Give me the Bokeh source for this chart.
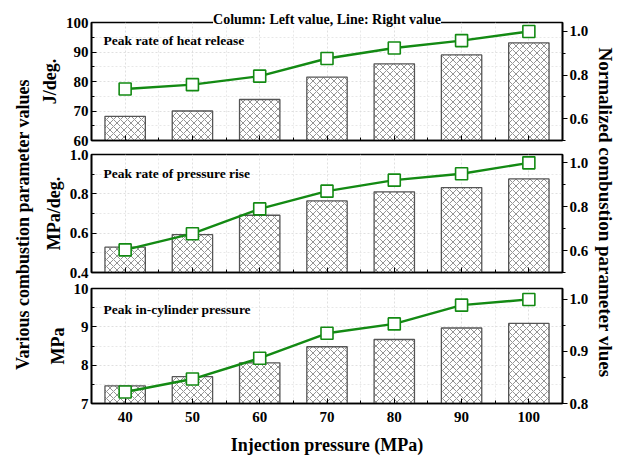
import math
from bokeh.plotting import figure
from bokeh.layouts import row, column
from bokeh.models import (Range1d, LinearAxis, FixedTicker, Label, ColumnDataSource,
                          PrintfTickFormatter, CustomJSTickFormatter)
from bokeh.embed import file_html
from bokeh.resources import INLINE

# ---------------- data ----------------
injection = [40, 50, 60, 70, 80, 90, 100]
x_major = [40, 50, 60, 70, 80, 90, 100]
x_minor = [35, 45, 55, 65, 75, 85, 95, 105]

hrr_peak = [68.2, 70.0, 73.9, 81.5, 86.0, 89.0, 93.1]
hrr_norm = [0.736, 0.756, 0.795, 0.876, 0.924, 0.958, 1.0]

prr_peak = [0.529, 0.593, 0.691, 0.764, 0.810, 0.832, 0.876]
prr_norm = [0.603, 0.677, 0.790, 0.871, 0.921, 0.950, 1.0]

pmax_peak = [7.46, 7.70, 8.06, 8.48, 8.67, 8.97, 9.09]
pmax_norm = [0.822, 0.847, 0.887, 0.935, 0.953, 0.989, 1.0]

panel_names = ["Peak rate of heat release", "Peak rate of pressure rise", "Peak in-cylinder pressure"]
unit_labels = ["J/deg.", "MPa/deg.", "MPa"]
x_title = "Injection pressure (MPa)"
left_title = "Various combustion parameter values"
right_title = "Normalized combustion parameter vlues"
legend_note = "Column: Left value, Line: Right value"

FONT = "Liberation Serif"
GREEN = "#138a13"


def make_panel(vals, norms, name, unit, ylim, yt, ym, yfmt, nlim, nt, nm,
               height, btop, bbot, name_y, show_x):
    p = figure(width=556, height=height, x_range=Range1d(35, 105),
               y_range=Range1d(*ylim), output_backend="svg",
               toolbar_location=None, min_border_left=54, min_border_right=30,
               min_border_top=btop, min_border_bottom=bbot)
    p.extra_y_ranges = {"norm": Range1d(*nlim)}
    p.outline_line_color = "black"
    p.outline_line_width = 1.6
    p.background_fill_color = "white"

    xt = FixedTicker(ticks=x_major, minor_ticks=x_minor)
    ytk = FixedTicker(ticks=yt, minor_ticks=ym)
    ntk = FixedTicker(ticks=nt, minor_ticks=nm)

    # grids
    p.xgrid.ticker = xt
    p.ygrid.ticker = ytk
    for g in (p.xgrid, p.ygrid):
        g.grid_line_color = "#d8d8d8"
        g.grid_line_dash = "2 2"
        g.grid_line_width = 0.8
        g.minor_grid_line_color = "#e2e2e2"
        g.minor_grid_line_dash = "2 2"
        g.minor_grid_line_width = 0.8

    # left axis
    ya = p.yaxis[0]
    ya.ticker = ytk
    ya.formatter = PrintfTickFormatter(format=yfmt)
    ya.major_tick_in = 5
    ya.major_tick_out = 0
    ya.minor_tick_in = 3
    ya.minor_tick_out = 0
    ya.major_label_standoff = 3
    ya.axis_line_width = 1.6
    ya.major_label_text_font = FONT
    ya.major_label_text_font_style = "bold"
    ya.major_label_text_font_size = "15px"
    ya.major_label_text_color = "black"
    ya.axis_label = unit
    ya.axis_label_text_font = FONT
    ya.axis_label_text_font_style = "bold"
    ya.axis_label_text_font_size = "18px"
    ya.axis_label_text_color = "black"
    ya.axis_label_standoff = 3

    # right axis
    ra = LinearAxis(y_range_name="norm", ticker=ntk,
                    formatter=PrintfTickFormatter(format="%.1f"))
    ra.major_tick_in = 0
    ra.major_tick_out = 5
    ra.minor_tick_in = 0
    ra.minor_tick_out = 3
    ra.major_label_standoff = 2
    ra.axis_line_width = 1.6
    ra.major_label_text_font = FONT
    ra.major_label_text_font_style = "bold"
    ra.major_label_text_font_size = "15px"
    ra.major_label_text_color = "black"
    p.add_layout(ra, "right")

    # bottom axis
    xa = p.xaxis[0]
    xa.ticker = xt
    xa.major_tick_in = 5
    xa.major_tick_out = 0
    xa.minor_tick_in = 3
    xa.minor_tick_out = 0
    xa.axis_line_width = 1.6
    xa.major_label_text_font = FONT
    xa.major_label_text_font_style = "bold"
    xa.major_label_text_color = "black"
    if show_x:
        xa.major_label_text_font_size = "15px"
        xa.major_label_standoff = 8
        xa.axis_label = x_title
        xa.axis_label_text_font = FONT
        xa.axis_label_text_font_style = "bold"
        xa.axis_label_text_font_size = "18px"
        xa.axis_label_text_color = "black"
        xa.axis_label_standoff = 10
    else:
        xa.formatter = CustomJSTickFormatter(code="return '';")
        xa.major_label_text_font_size = "1px"
        xa.major_label_standoff = 0

    src = ColumnDataSource(dict(x=injection, top=vals, norm=norms))
    p.vbar(x="x", top="top", bottom=ylim[0], width=6, source=src,
           fill_color="white", line_color="#555555", line_width=1.3,
           hatch_pattern="diagonal_cross", hatch_color="#666666",
           hatch_scale=7, hatch_weight=0.7)
    p.line(x="x", y="norm", source=src, y_range_name="norm",
           line_color=GREEN, line_width=2.4)
    p.scatter(x="x", y="norm", source=src, y_range_name="norm",
              marker="square", size=12, fill_color="white",
              line_color=GREEN, line_width=1.6)

    p.add_layout(Label(x=36.8, y=name_y, text=name, text_font=FONT,
                       text_font_style="bold", text_font_size="13.5px",
                       text_color="black",
                       text_align="left", text_baseline="middle"))
    return p


p1 = make_panel(hrr_peak, hrr_norm, panel_names[0], unit_labels[0],
                (60, 100), [60, 70, 80, 90, 100], [65, 75, 85, 95], "%d",
                (0.5, 1.041), [0.6, 0.8, 1.0], [0.5, 0.7, 0.9],
                147, 22, 7, 93.9, False)
p1.title.text = legend_note
p1.title.align = "center"
p1.title.text_font = FONT
p1.title.text_font_style = "bold"
p1.title.text_font_size = "14px"
p1.title.text_color = "black"
p1.title.background_fill_color = "white"
try:
    p1.title.standoff = -8
except Exception:
    p1.title.standoff = 0

p2 = make_panel(prr_peak, prr_norm, panel_names[1], unit_labels[1],
                (0.4, 1.0), [0.4, 0.6, 0.8, 1.0], [0.5, 0.7, 0.9], "%.1f",
                (0.5, 1.038), [0.6, 0.8, 1.0], [0.5, 0.7, 0.9],
                132, 7, 7, 0.905, False)

p3 = make_panel(pmax_peak, pmax_norm, panel_names[2], unit_labels[2],
                (7, 10), [7, 8, 9, 10], [7.5, 8.5, 9.5], "%d",
                (0.8, 1.021), [0.8, 0.9, 1.0], [0.85, 0.95],
                178, 9, 51, 9.46, True)


def strip(width, text, xpos, ypos, ang, size):
    s = figure(width=width, height=457, x_range=Range1d(0, width),
               y_range=Range1d(0, 457), output_backend="svg",
               toolbar_location=None, min_border=0,
               x_axis_type=None, y_axis_type=None)
    s.grid.visible = False
    s.outline_line_color = None
    s.add_layout(Label(x=xpos, y=ypos, text=text, angle=ang, text_font=FONT,
                       text_font_style="bold", text_font_size=size,
                       text_color="black",
                       text_align="center", text_baseline="middle"))
    return s


left = strip(36, left_title, 22, 457 - 224, math.pi / 2, "18px")
right = strip(27, right_title, 13, 457 - 212, -math.pi / 2, "19px")

layout = row(left, column(p1, p2, p3), right)

open("out.html", "w").write(file_html(layout, INLINE))
